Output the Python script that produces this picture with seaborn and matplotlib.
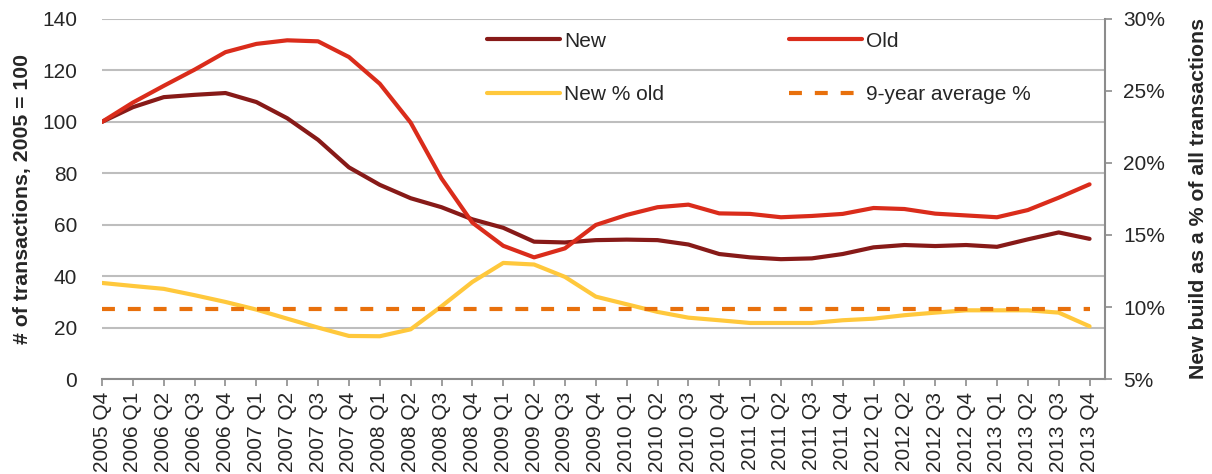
import matplotlib
matplotlib.use("Agg")
import matplotlib.pyplot as plt
import numpy as np
import pandas as pd
import seaborn as sns

quarters = [
    "2005 Q4",
    "2006 Q1", "2006 Q2", "2006 Q3", "2006 Q4",
    "2007 Q1", "2007 Q2", "2007 Q3", "2007 Q4",
    "2008 Q1", "2008 Q2", "2008 Q3", "2008 Q4",
    "2009 Q1", "2009 Q2", "2009 Q3", "2009 Q4",
    "2010 Q1", "2010 Q2", "2010 Q3", "2010 Q4",
    "2011 Q1", "2011 Q2", "2011 Q3", "2011 Q4",
    "2012 Q1", "2012 Q2", "2012 Q3", "2012 Q4",
    "2013 Q1", "2013 Q2", "2013 Q3", "2013 Q4",
]

# Transaction index, 2005 = 100
new_index = [
    100.0, 105.7, 109.6, 110.5, 111.2, 107.7, 101.4, 93.0, 82.3,
    75.5, 70.3, 66.8, 62.1, 58.8, 53.4, 53.1, 54.0,
    54.2, 54.0, 52.3, 48.6, 47.3, 46.6, 46.9, 48.6,
    51.2, 52.1, 51.7, 52.1, 51.4, 54.3, 57.0, 54.5,
]
old_index = [
    100.0, 107.5, 114.0, 120.3, 127.1, 130.3, 131.7, 131.3, 125.2,
    114.8, 99.7, 78.0, 60.8, 51.8, 47.3, 50.8, 59.9,
    63.8, 66.8, 67.8, 64.4, 64.2, 62.9, 63.4, 64.2,
    66.5, 66.1, 64.3, 63.6, 62.9, 65.7, 70.5, 75.7,
]

# New build share of all transactions, %
new_pct_old = [
    11.67, 11.46, 11.26, 10.82, 10.35, 9.82, 9.19, 8.57, 7.99,
    7.97, 8.45, 10.05, 11.74, 13.06, 12.95, 12.09, 10.72,
    10.19, 9.66, 9.26, 9.08, 8.89, 8.89, 8.89, 9.08,
    9.19, 9.43, 9.61, 9.77, 9.77, 9.77, 9.61, 8.66,
]
avg_pct = 9.84

left_ticks = [0, 20, 40, 60, 80, 100, 120, 140]
right_ticks = [5, 10, 15, 20, 25, 30]

c_new = "#871A18"
c_old = "#DA2C1B"
c_pct = "#FFC83C"
c_avg = "#E8700C"
grid_c = "#BEBEBE"
axis_c = "#8C8C8C"

fs = 15
fs_label = 15.3

sns.set_theme(style="white")
plt.rcParams["font.family"] = ["Liberation Sans", "DejaVu Sans"]

df = pd.DataFrame({
    "pos": np.arange(len(quarters)),
    "quarter": quarters,
    "New": new_index,
    "Old": old_index,
    "New % old": new_pct_old,
    "9-year average %": [avg_pct] * len(quarters),
})

fig = plt.figure(figsize=(12.12, 4.74), dpi=100)
ax = fig.add_axes([0.0842, 0.2004, 0.8275, 0.7596])
ax2 = ax.twinx()

lw = 3.0
sns.lineplot(data=df, x="pos", y="New", ax=ax, color=c_new, lw=lw, label="New", legend=False)
sns.lineplot(data=df, x="pos", y="Old", ax=ax, color=c_old, lw=lw, label="Old", legend=False)
sns.lineplot(data=df, x="pos", y="New % old", ax=ax2, color=c_pct, lw=lw, label="New % old", legend=False)
sns.lineplot(data=df, x="pos", y="9-year average %", ax=ax2, color=c_avg, lw=lw,
             linestyle=(0, (3.1, 3.1)), label="9-year average %", legend=False)

ax.set_xlim(0, len(quarters) - 0.5)
ax.set_ylim(0, 140)
ax2.set_ylim(5, 30)

ax.set_yticks(left_ticks)
ax.set_yticklabels([str(t) for t in left_ticks], fontsize=fs)
ax2.set_yticks(right_ticks)
ax2.set_yticklabels([f"{t}%" for t in right_ticks], fontsize=fs)

ax.set_xticks(df["pos"])
ax.set_xticklabels(quarters, rotation=90, fontsize=fs)

ax.yaxis.grid(True, color=grid_c, lw=1.5)
ax.set_axisbelow(True)

for a in (ax, ax2):
    for s in ("left", "top", "right", "bottom"):
        a.spines[s].set_visible(False)
ax.spines["bottom"].set_visible(True)
ax.spines["bottom"].set_color(axis_c)
ax.spines["bottom"].set_linewidth(1.5)
ax2.spines["right"].set_visible(True)
ax2.spines["right"].set_color(axis_c)
ax2.spines["right"].set_linewidth(1.5)

ax.tick_params(axis="x", which="major", bottom=True, length=5, width=1.2, color=axis_c, pad=4)
ax.tick_params(axis="y", left=False, pad=12)
ax2.tick_params(axis="y", right=True, length=5, width=1.2, color=axis_c, pad=8)

ax.set_xlabel("")
ax.set_ylabel("# of transactions, 2005 = 100", fontsize=fs_label, fontweight="bold", labelpad=7)
ax2.set_ylabel("New build as a % of all transactions", fontsize=fs_label, fontweight="bold", labelpad=17)

h1, l1 = ax.get_legend_handles_labels()
h2, l2 = ax2.get_legend_handles_labels()
handles = [h1[0], h1[1], h2[0], h2[1]]
labels = [l1[0], l1[1], l2[0], l2[1]]
# two columns: New / New % old, then Old / 9-year average %
order = [0, 2, 1, 3]
ax.legend([handles[i] for i in order], [labels[i] for i in order],
          ncol=2, loc="upper left", bbox_to_anchor=(0.384, 0.965),
          frameon=False, fontsize=fs, handlelength=3.5, handletextpad=0.2,
          columnspacing=6.0, labelspacing=1.65, borderpad=0, borderaxespad=0)

fig.savefig("out.png", dpi=100)
